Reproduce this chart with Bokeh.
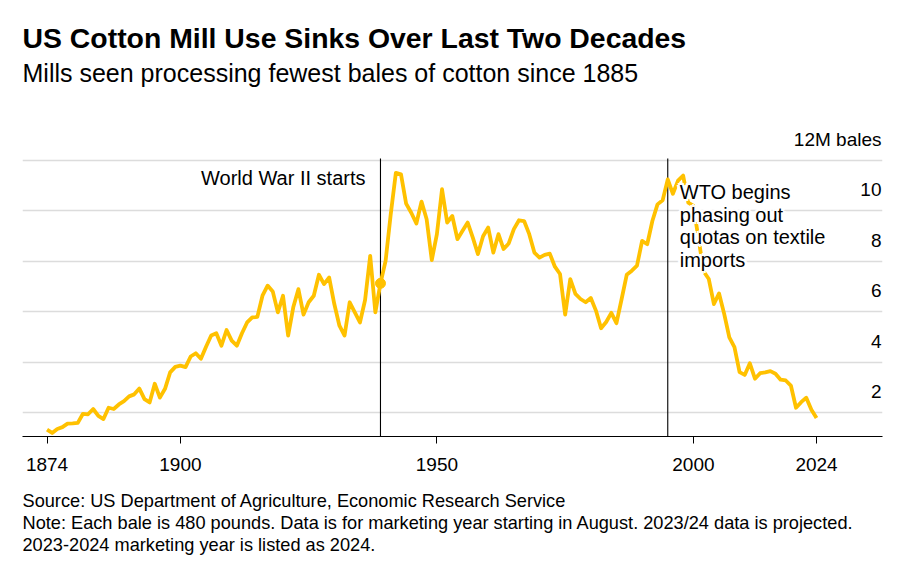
from bokeh.plotting import figure
from bokeh.layouts import column
from bokeh.models import Label, Range1d, FixedTicker, ColumnDataSource
from bokeh.core.properties import value
from bokeh.embed import file_html
from bokeh.resources import INLINE

# ---------------- data ----------------
years = list(range(1874, 2025))
mill_use = [
    # 1874-1883
    1.33, 1.20, 1.36, 1.43, 1.57, 1.58, 1.60, 1.96, 1.94, 2.15,
    # 1884-1893
    1.88, 1.75, 2.20, 2.15, 2.33, 2.46, 2.65, 2.73, 2.96, 2.54,
    # 1894-1903
    2.41, 3.15, 2.60, 2.95, 3.60, 3.82, 3.87, 3.81, 4.23, 4.36,
    # 1904-1913
    4.14, 4.62, 5.06, 5.15, 4.66, 5.28, 4.86, 4.66, 5.15, 5.58,
    # 1914-1923
    5.78, 5.80, 6.64, 7.04, 6.81, 5.98, 6.64, 5.06, 6.18, 6.90,
    # 1924-1933
    5.89, 6.38, 6.64, 7.47, 7.10, 7.36, 6.31, 5.45, 5.06, 6.38,
    # 1934-1943
    5.98, 5.58, 6.47, 8.22, 5.98, 7.13, 8.02, 9.87, 11.51, 11.45,
    # 1944-1953
    10.29, 9.93, 9.50, 10.37, 9.67, 8.05, 9.08, 10.86, 9.54, 9.80,
    # 1954-1963
    8.88, 9.21, 9.54, 8.94, 8.29, 9.00, 9.34, 8.35, 9.08, 8.49,
    # 1964-1973
    8.71, 9.28, 9.63, 9.60, 9.08, 8.35, 8.15, 8.26, 8.31, 7.79,
    # 1974-1983
    7.50, 5.89, 7.30, 6.71, 6.51, 6.38, 6.55, 6.05, 5.35, 5.60,
    # 1984-1993
    5.96, 5.55, 6.50, 7.47, 7.63, 7.83, 8.81, 8.68, 9.60, 10.26,
    # 1994-2003
    10.42, 11.25, 10.68, 11.20, 11.40, 10.33, 10.20, 8.90, 7.60, 7.30,
    # 2004-2013
    6.31, 6.73, 5.92, 4.99, 4.60, 3.61, 3.50, 3.96, 3.35, 3.57,
    # 2014-2023
    3.60, 3.65, 3.55, 3.31, 3.28, 3.08, 2.20, 2.42, 2.60, 2.12,
    # 2024
    1.79,
]

x_ticks = [1874, 1900, 1950, 2000, 2024]
y_grid_values = [2, 4, 6, 8, 10, 12]
y_tick_labels = ["2", "4", "6", "8", "10", "12M bales"]

event_years = [1939, 1995]
wwii_text = "World War II starts"
wto_lines = ["WTO begins", "phasing out", "quotas on textile", "imports"]

title = "US Cotton Mill Use Sinks Over Last Two Decades"
subtitle = "Mills seen processing fewest bales of cotton since 1885"
notes = [
    "Source: US Department of Agriculture, Economic Research Service",
    "Note: Each bale is 480 pounds. Data is for marketing year starting in August. 2023/24 data is projected.",
    "2023-2024 marketing year is listed as 2024.",
]

# ---------------- styling ----------------
FONT = "Liberation Sans"
GOLD = "#FFC100"
GRID = "#dcdcdc"

W = 905
X0, X1 = 1869.22, 2036.86
Y0, Y1 = 1.06, 18.34

p = figure(width=W, height=485, x_range=Range1d(X0, X1), y_range=Range1d(Y0, Y1),
           output_backend="svg", toolbar_location=None, y_axis_location=None,
           min_border_left=22, min_border_right=W - 882, min_border_top=0, min_border_bottom=49)
p.outline_line_color = None
p.background_fill_color = "white"
p.border_fill_color = "white"
p.xgrid.visible = False
p.ygrid.ticker = FixedTicker(ticks=y_grid_values)
p.ygrid.grid_line_color = GRID
p.ygrid.grid_line_width = 1.6

ax = p.xaxis[0]
ax.ticker = FixedTicker(ticks=x_ticks)
ax.axis_line_color = "black"
ax.axis_line_width = 1.2
ax.major_tick_line_color = "black"
ax.major_tick_out = 7
ax.major_tick_in = 0
ax.minor_tick_line_color = None
ax.major_label_text_font = FONT
ax.major_label_text_font_size = "19px"
ax.major_label_text_color = "black"
ax.major_label_standoff = 14

# y labels above gridlines, right aligned
ysrc = ColumnDataSource(dict(x=[X1] * len(y_grid_values), y=y_grid_values, t=y_tick_labels))
p.text(x="x", y="y", text="t", source=ysrc, text_align="right", text_baseline="alphabetic",
       x_offset=-1, y_offset=-21, text_font=value(FONT), text_font_size="19px", text_color="black")

# event lines
p.segment(x0=event_years, y0=[Y0] * 2, x1=event_years, y1=[12.08] * 2,
          line_color="black", line_width=1.1)

# main line
p.line(years, mill_use, line_color=GOLD, line_width=3.8, line_join="round")
i39 = years.index(event_years[0])
p.scatter([years[i39]], [mill_use[i39]], size=10, color=GOLD, line_color=GOLD)

# WWII label
p.text(x=[event_years[0]], y=[12], text=[wwii_text], text_align="right", text_baseline="alphabetic",
       x_offset=-15, y_offset=18, text_font=value(FONT), text_font_size="20px", text_color="black")

# WTO label with white halo
offs = [(-3, 0), (3, 0), (0, -3), (0, 3), (-2, -2), (2, 2), (-2, 2), (2, -2)]
hx, hy, ht, hxo, hyo = [], [], [], [], []
for k, t in enumerate(wto_lines):
    for dx, dy in offs:
        hx.append(event_years[1]); hy.append(12); ht.append(t)
        hxo.append(12 + dx); hyo.append(32 + 22.4 * k + dy)
p.text(x="x", y="y", text="t", x_offset="xo", y_offset="yo",
       source=ColumnDataSource(dict(x=hx, y=hy, t=ht, xo=hxo, yo=hyo)),
       text_align="left", text_baseline="alphabetic", text_font=value(FONT),
       text_font_size="20px", text_color="white")
p.text(x="x", y="y", text="t", x_offset=12, y_offset="yo",
       source=ColumnDataSource(dict(x=[event_years[1]] * 4, y=[12] * 4, t=wto_lines,
                                    yo=[32 + 22.4 * k for k in range(4)])),
       text_align="left", text_baseline="alphabetic", text_font=value(FONT),
       text_font_size="20px", text_color="black")

# titles (screen units relative to frame bottom-left at (22, 436))
p.add_layout(Label(x=0, y=436 - 37, x_units="screen", y_units="screen", text=title,
                   text_font=FONT, text_font_size="28.4px", text_font_style="bold",
                   text_color="black", text_baseline="alphabetic"))
p.add_layout(Label(x=0, y=436 - 72, x_units="screen", y_units="screen", text=subtitle,
                   text_font=FONT, text_font_size="25px", text_color="black",
                   text_baseline="alphabetic"))

# notes panel
NH = 87
nf = figure(width=W, height=NH, x_range=Range1d(0, 1), y_range=Range1d(0, 1),
            output_backend="svg", toolbar_location=None,
            x_axis_location=None, y_axis_location=None,
            min_border_left=0, min_border_right=0, min_border_top=0, min_border_bottom=0)
nf.outline_line_color = None
nf.xgrid.visible = False
nf.ygrid.visible = False
for k, n in enumerate(notes):
    nf.add_layout(Label(x=0, y=(485 + NH) - (500 + 22 * k), x_units="screen", y_units="screen",
                        text=n, text_font=FONT, text_font_size="18.2px", text_color="black",
                        text_baseline="alphabetic"))

layout = column(p, nf, spacing=0)
open("out.html", "w").write(file_html(layout, INLINE))
